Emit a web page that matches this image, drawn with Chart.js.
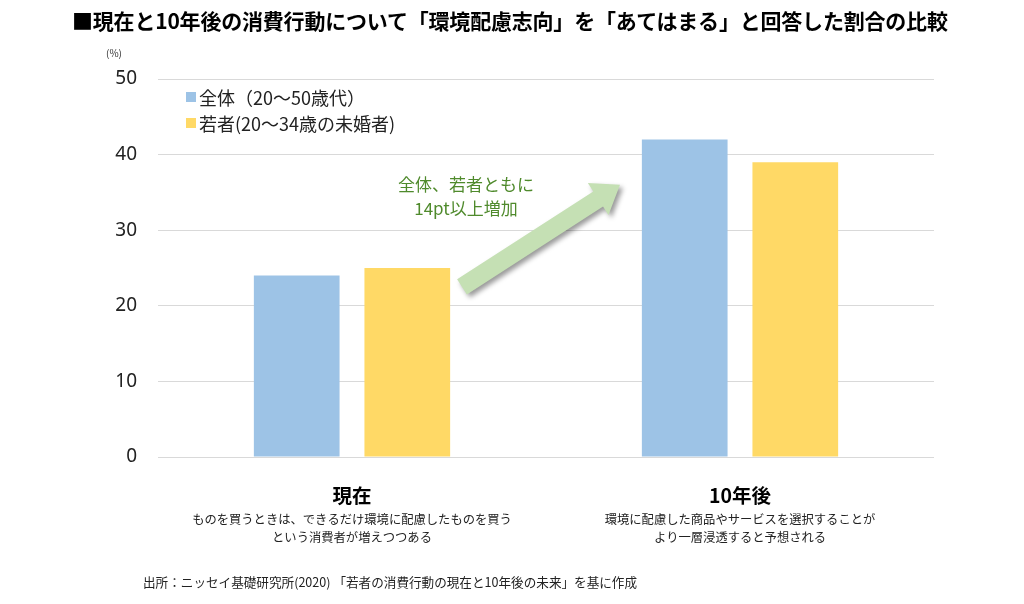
<!DOCTYPE html>
<html>
<head>
<meta charset="utf-8">
<script src="https://cdn.jsdelivr.net/npm/chart.js@4/dist/chart.umd.min.js"></script>
<style>
  body { margin: 0; background: #fff; }
  #wrap { position: relative; width: 1024px; height: 604px; overflow: hidden; }
  #chart { position: absolute; left: 0; top: 0; }
  .title { position: absolute; left: 72px; top: 5px; font: bold 21px "Noto Sans CJK JP", sans-serif; color: #000; white-space: nowrap; letter-spacing: -0.2px; }
  .note { position: absolute; left: 143px; top: 572px; font: 12.6px "Noto Sans CJK JP", sans-serif; color: #222; white-space: nowrap; }
</style>
</head>
<body>
<div id="wrap">
  <canvas id="chart" width="1024" height="604"></canvas>
  <div class="title">■現在と10年後の消費行動について「環境配慮志向」を「あてはまる」と回答した割合の比較</div>
  <div class="note">出所：ニッセイ基礎研究所(2020) 「若者の消費行動の現在と10年後の未来」を基に作成</div>
</div>
<script>
var categories = ['現在', '10年後']
var descriptions = [
    ['ものを買うときは、できるだけ環境に配慮したものを買う', 'という消費者が増えつつある'],
    ['環境に配慮した商品やサービスを選択することが', 'より一層浸透すると予想される']
]
var seriesNames = ['全体（20～50歳代）', '若者(20～34歳の未婚者)']
var allAges = [24, 42]
var young = [25, 39]
var yTicks = [0, 10, 20, 30, 40, 50]
var colors = ['#9dc3e6', '#ffd966']
var arrowText = ['全体、若者ともに', '14pt以上増加']

var jp = '"Noto Sans CJK JP", sans-serif'

// legend, arrow, descriptions and (%) label
var extras = {
    id: 'extras',
    afterDraw(chart) {
        var ctx = chart.ctx
        var x = chart.scales.x, y = chart.scales.y
        ctx.save()

        // (%)
        ctx.fillStyle = '#333'
        ctx.font = '10px ' + jp
        ctx.textAlign = 'center'
        ctx.textBaseline = 'middle'
        ctx.fillText('(%)', 114, 53)

        // legend
        ctx.font = '18px ' + jp
        ctx.textAlign = 'left'
        chart.data.datasets.forEach((ds, i) => {
            var ly = 97 + i * 26
            ctx.fillStyle = ds.backgroundColor
            ctx.fillRect(186, ly - 5, 10, 10)
            ctx.fillStyle = '#222'
            ctx.fillText(ds.label, 199, ly + 1)
        })

        // arrow
        var sx = x.getPixelForValue(0) + 110, sy = y.getPixelForValue(22.5)
        var ex = x.getPixelForValue(1) - 120, ey = y.getPixelForValue(36)
        var ang = Math.atan2(ey - sy, ex - sx)
        var len = Math.hypot(ex - sx, ey - sy)
        ctx.translate(sx, sy)
        ctx.rotate(ang)
        ctx.shadowColor = 'rgba(0,0,0,0.4)'
        ctx.shadowBlur = 5
        ctx.shadowOffsetX = 3
        ctx.shadowOffsetY = 3
        ctx.fillStyle = '#c5e0b4'
        ctx.beginPath()
        ctx.moveTo(0, -9)
        ctx.lineTo(len - 26, -9)
        ctx.lineTo(len - 26, -19)
        ctx.lineTo(len, 0)
        ctx.lineTo(len - 26, 19)
        ctx.lineTo(len - 26, 9)
        ctx.lineTo(0, 9)
        ctx.closePath()
        ctx.fill()
        ctx.setTransform(1, 0, 0, 1, 0, 0)
        ctx.shadowColor = 'transparent'

        // arrow text
        ctx.fillStyle = '#4f8a2c'
        ctx.font = '17px ' + jp
        ctx.textAlign = 'center'
        var tx = x.getPixelForValue(0) + 114
        ctx.fillText(arrowText[0], tx, 185)
        ctx.fillText(arrowText[1], tx, 209)

        // descriptions under categories
        ctx.fillStyle = '#222'
        ctx.font = '12.3px ' + jp
        descriptions.forEach((lines, i) => {
            var cx = x.getPixelForValue(i)
            lines.forEach((t, j) => ctx.fillText(t, cx, 519 + j * 18))
        })
        ctx.restore()
    }
}

document.addEventListener('DOMContentLoaded', () => {
    var ctx = document.getElementById('chart').getContext('2d')
    new Chart(ctx, {
        type: 'bar',
        data: {
            labels: categories,
            datasets: [
                { label: seriesNames[0], data: allAges, backgroundColor: colors[0] },
                { label: seriesNames[1], data: young, backgroundColor: colors[1] }
            ]
        },
        options: {
            responsive: false,
            animation: false,
            datasets: { bar: { categoryPercentage: 0.57, barPercentage: 0.775 } },
            layout: { padding: { left: 98, right: 90, top: 79, bottom: 0 } },
            plugins: { legend: { display: false }, tooltip: { enabled: false } },
            scales: {
                x: {
                    grid: { display: false },
                    border: { display: false },
                    ticks: { padding: 19, color: '#000', font: { family: 'Noto Sans CJK JP', size: 19.5, weight: 'bold' } },
                    afterFit(s) { s.height = 147 }
                },
                y: {
                    min: 0, max: 50,
                    afterBuildTicks(s) { s.ticks = yTicks.map(v => ({ value: v })) },
                    grid: { color: '#d9d9d9', drawTicks: false },
                    border: { display: false },
                    ticks: { padding: 21, color: '#222', font: { family: 'Noto Sans', size: 19 } },
                    afterFit(s) { s.width = 60 }
                }
            }
        },
        plugins: [extras]
    })
})
</script>
</body>
</html>
